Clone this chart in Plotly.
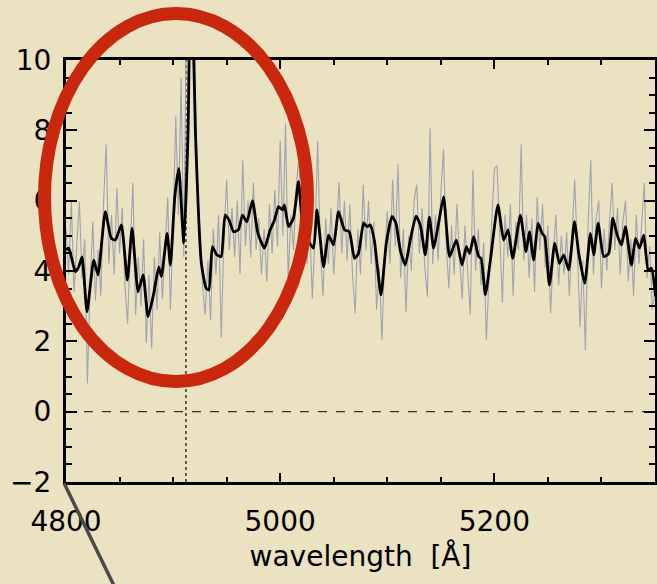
import numpy as np
import plotly.graph_objects as go

# ---- data ----
# raw spectrum (grey), sampled every 2.5 Å from 4800 to 5350 Å
raw_start, raw_step = 4800.0, 2.5
raw_flux = [
    5.2, 3.9, 6.0, 3.4, 4.7, 5.97, 3.8, 4.9, 0.8, 3.6,
    5.4, 3.17, 4.6, 3.3, 5.9, 7.6, 4.2, 5.6, 3.9, 6.35,
    4.5, 5.8, 3.6, 2.5, 4.7, 6.5, 2.75, 4.4, 3.0, 4.9,
    1.95, 3.9, 1.8, 4.4, 2.9, 5.1, 3.2, 4.6, 6.1, 2.9,
    5.3, 8.4, 5.6, 9.5, 4.4, 11.5, 14.0, 15.0, 10.5, 6.5,
    5.2, 3.6, 2.75, 4.3, 2.6, 5.2, 3.9, 5.6, 2.1, 5.0,
    6.6, 4.6, 5.8, 4.4, 6.0, 3.9, 7.15, 4.7, 6.0, 4.4,
    6.5, 4.6, 5.5, 3.9, 5.2, 3.7, 5.9, 4.5, 6.3, 4.7,
    7.7, 5.0, 8.2, 3.7, 5.6, 4.6, 6.4, 7.24, 4.7, 6.0,
    4.2, 5.4, 3.2, 5.0, 7.7, 4.6, 3.3, 5.5, 4.2, 5.8,
    3.9, 5.3, 6.53, 4.5, 6.0, 4.3, 5.9, 3.9, 2.8, 5.2,
    3.9, 6.45, 4.6, 6.0, 4.2, 5.4, 2.9, 4.1, 2.03, 4.4,
    5.7, 4.2, 6.6, 4.7, 7.05, 3.8, 5.2, 2.83, 5.0, 4.0,
    6.0, 6.45, 4.5, 5.8, 4.1, 3.27, 8.06, 4.2, 5.6, 4.3,
    6.2, 7.46, 4.8, 3.5, 5.3, 3.9, 5.9, 4.4, 3.2, 5.3,
    3.9, 2.75, 6.87, 4.0, 5.2, 3.6, 4.8, 2.03, 3.8, 5.2,
    6.9, 7.0, 4.8, 3.1, 5.6, 4.4, 5.9, 3.3, 5.4, 4.6,
    7.6, 4.3, 5.6, 3.8, 5.5, 3.4, 6.1, 4.6, 5.9, 4.1,
    5.3, 2.8, 4.5, 5.6, 3.6, 5.0, 3.9, 5.1, 3.3, 4.9,
    6.6, 4.6, 2.4, 4.3, 1.75, 5.3, 7.15, 3.9, 5.5, 6.0,
    3.5, 5.2, 4.0, 5.4, 6.5, 4.6, 5.8, 3.9, 5.4, 6.0,
    3.7, 4.9, 3.3, 5.6, 4.2, 5.3, 6.5, 3.8, 4.7, 2.9,
    3.4,
]
raw_wave = [raw_start + raw_step * i for i in range(len(raw_flux))]

# smoothed spectrum (black)
smooth_wave = [
    4800.0, 4802.5, 4805.0, 4808.7, 4811.9, 4815.0, 4819.6, 4825.9, 4829.9, 4836.7,
    4842.3, 4846.1, 4851.7, 4857.3, 4861.7, 4867.3, 4872.0, 4876.6, 4882.0, 4886.6,
    4889.1, 4894.4, 4897.5, 4901.6, 4905.3, 4910.0, 4914.0, 4916.6, 4920.8, 4926.4,
    4930.8, 4933.4, 4936.7, 4940.8, 4944.9, 4948.6, 4952.3, 4956.4, 4961.0, 4964.8,
    4968.9, 4974.1, 4979.2, 4985.3, 4990.7, 4994.7, 4998.4, 5002.1, 5004.0, 5007.8,
    5012.4, 5017.1, 5020.8, 5025.5, 5031.1, 5034.3, 5040.5, 5045.1, 5049.8, 5054.5,
    5060.1, 5064.5, 5069.4, 5073.1, 5077.9, 5081.0, 5084.1, 5087.9, 5094.1, 5099.1,
    5104.4, 5108.1, 5112.1, 5116.8, 5121.5, 5126.8, 5130.8, 5135.5, 5139.3, 5143.3,
    5147.9, 5152.6, 5158.2, 5164.5, 5169.8, 5173.8, 5176.9, 5180.7, 5185.3, 5187.6,
    5191.6, 5196.3, 5203.3, 5208.7, 5212.8, 5217.1, 5224.3, 5229.6, 5232.7, 5236.7,
    5240.8, 5244.6, 5247.0, 5251.4, 5256.4, 5260.7, 5264.8, 5269.4, 5274.8, 5278.8,
    5284.4, 5289.7, 5292.8, 5296.9, 5302.1, 5306.8, 5310.6, 5314.7, 5318.7, 5322.4,
    5328.0, 5331.8, 5335.5, 5339.5, 5343.6, 5346.7, 5350.5,
]
smooth_flux = [
    4.60, 4.65, 4.40, 3.98, 4.12, 4.40, 2.84, 4.31, 3.89, 5.69,
    4.93, 4.88, 5.31, 3.74, 5.21, 3.41, 3.89, 2.70, 3.37, 4.12,
    3.84, 5.07, 4.17, 6.11, 6.92, 4.79, 8.00, 13.5, 8.00, 4.22,
    3.51, 3.46, 4.69, 4.46, 4.41, 5.59, 5.45, 5.12, 5.17, 5.59,
    5.40, 6.00, 5.07, 4.65, 5.17, 5.45, 5.83, 5.74, 5.88, 5.26,
    5.50, 6.54, 5.36, 4.90, 4.65, 5.74, 4.12, 5.02, 4.74, 5.69,
    5.17, 5.12, 4.36, 4.50, 5.37, 5.26, 5.31, 4.88, 3.32, 4.79,
    5.55, 5.36, 4.60, 4.17, 4.88, 5.56, 5.31, 4.46, 5.53, 4.65,
    5.36, 6.11, 4.41, 4.88, 4.17, 4.69, 4.50, 4.98, 4.41, 4.36,
    3.32, 4.31, 5.88, 4.88, 5.17, 4.36, 5.59, 4.55, 5.12, 4.31,
    5.36, 5.07, 4.98, 3.60, 4.79, 4.22, 4.46, 4.03, 5.40, 4.50,
    3.65, 5.07, 4.46, 5.36, 4.41, 4.50, 5.50, 5.02, 4.74, 5.26,
    4.17, 4.93, 4.65, 5.02, 4.03, 4.08, 3.27,
]

line_wave = 4912.0          # dotted marker position
x_range = [4800, 5350]
y_range = [-2, 10]
x_ticks = [4800, 5000, 5200]
y_ticks = [-2, 0, 2, 4, 6, 8, 10]

BG = "#eae2c1"
FONT = "DejaVu Sans"

fig = go.Figure()
fig.add_trace(go.Scatter(x=raw_wave, y=raw_flux, mode="lines",
                         line=dict(color="#a0a3b0", width=1.1), hoverinfo="skip"))
fig.add_trace(go.Scatter(x=smooth_wave, y=smooth_flux, mode="lines",
                         line=dict(color="#000000", width=2.8, shape="spline", smoothing=0.5),
                         hoverinfo="skip"))

# dotted reference lines
fig.add_shape(type="line", xref="x", yref="y", x0=x_range[0], x1=x_range[1], y0=0, y1=0,
              line=dict(color="#333333", width=1.3, dash="dash"), layer="below")
fig.add_shape(type="line", xref="x", yref="y", x0=line_wave, x1=line_wave,
              y0=y_range[0], y1=y_range[1],
              line=dict(color="#333333", width=1.5, dash="dot"), layer="below")

# red highlight ellipse
fig.add_shape(type="circle", xref="paper", yref="paper",
              x0=-0.0365, x1=0.410, y0=0.238, y1=1.110,
              line=dict(color="#c9280f", width=13), layer="above")
# grey pointer line
fig.add_shape(type="line", xref="paper", yref="paper",
              x0=-0.0034, y0=-0.0024, x1=0.0883, y1=-0.265,
              line=dict(color="#4a4a4a", width=3.5), layer="above")

axis_common = dict(showgrid=False, zeroline=False, showline=True, linecolor="black",
                   linewidth=3, mirror="ticks", ticks="inside", tickcolor="black",
                   tickwidth=2, tickfont=dict(family=FONT, size=28, color="black"))

fig.update_xaxes(range=x_range, tickvals=x_ticks, ticklen=9,
                 minor=dict(dtick=50, tick0=4800, ticklen=5, ticks="inside",
                            tickcolor="black", tickwidth=2),
                 ticklabelstandoff=12,
                 title=dict(text="wavelength  [Å]", font=dict(family=FONT, size=28, color="black"),
                            standoff=10),
                 **axis_common)
fig.update_yaxes(range=y_range, tickvals=y_ticks, ticklen=11,
                 minor=dict(dtick=0.5, tick0=0, ticklen=6, ticks="inside",
                            tickcolor="black", tickwidth=2),
                 ticklabelstandoff=6,
                 **axis_common)

fig.update_layout(width=657, height=584, paper_bgcolor=BG, plot_bgcolor=BG,
                  showlegend=False, margin=dict(l=66, r=2, t=60, b=102, autoexpand=False))

fig.write_html("out.html")
